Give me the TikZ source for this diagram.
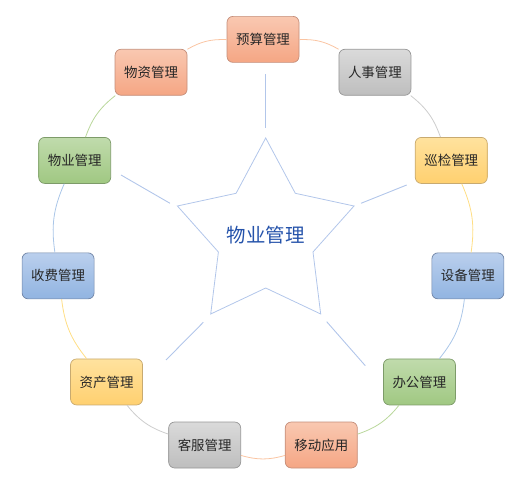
\documentclass[tikz,border=0pt]{standalone}
\usepackage{fontspec}
\setmainfont{Noto Sans CJK SC}
\definecolor{SalmonTop}{RGB}{249,200,177}
\definecolor{SalmonBot}{RGB}{245,166,132}
\definecolor{SalmonLine}{RGB}{196,142,122}
\definecolor{SalmonArc}{RGB}{250,196,162}
\definecolor{GrayTop}{RGB}{218,218,218}
\definecolor{GrayBot}{RGB}{190,190,190}
\definecolor{GrayLine}{RGB}{150,150,150}
\definecolor{GrayArc}{RGB}{205,205,205}
\definecolor{GoldTop}{RGB}{255,226,158}
\definecolor{GoldBot}{RGB}{255,208,112}
\definecolor{GoldLine}{RGB}{200,170,112}
\definecolor{GoldArc}{RGB}{255,222,132}
\definecolor{BlueTop}{RGB}{186,207,237}
\definecolor{BlueBot}{RGB}{145,180,225}
\definecolor{BlueLine}{RGB}{112,132,165}
\definecolor{BlueArc}{RGB}{170,198,232}
\definecolor{GreenTop}{RGB}{192,219,172}
\definecolor{GreenBot}{RGB}{160,200,130}
\definecolor{GreenLine}{RGB}{125,155,105}
\definecolor{GreenArc}{RGB}{185,215,155}
\definecolor{HubBlue}{RGB}{36,82,170}
\definecolor{SpokeBlue}{RGB}{178,198,234}

\begin{document}
\begin{tikzpicture}[x=1bp, y=1bp,
    box/.style={draw=#1Line, line width=0.7bp, top color=#1Top, bottom color=#1Bot,
      rounded corners=6bp, minimum width=72bp, minimum height=46bp, inner sep=2bp,
      text=black!85, font=\fontsize{13.5}{16}\selectfont},
    rim/.style={draw=#1Arc, line width=0.8bp},
    spoke/.style={draw=SpokeBlue, line width=0.9bp}]
  \useasboundingbox (-263,-242.6) rectangle (267,246.4);

  % centre star
  \node[text=HubBlue, font=\fontsize{19.5}{22}\selectfont] (hub) at (2.7,11.1) {物业管理};
  \draw[spoke, line width=0.8bp, line join=miter, shift={(hub)}]
    (0,97.3) -- (29.6,42) -- (88.3,29.3) -- (47.3,-16.7) -- (55,-78.7)
    -- (0,-52.7) -- (-55,-78.7) -- (-47.3,-16.7) -- (-88.3,29.3) -- (-29.6,42) -- cycle;

  % ring of modules, clockwise from the top
  \foreach \i/\txt/\tone in {0/预算管理/Salmon, 1/人事管理/Gray, 2/巡检管理/Gold,
      3/设备管理/Blue, 4/办公管理/Green, 5/移动应用/Salmon, 6/客服管理/Gray,
      7/资产管理/Gold, 8/收费管理/Blue, 9/物业管理/Green, 10/物资管理/Salmon} {
    \node[box=\tone] (n\i) at ({90-\i*360/11}:207) {\txt};
  }

  % arcs between neighbours
  \foreach \i/\tone in {0/Salmon, 1/Gray, 2/Gold, 3/Blue, 4/Green, 5/Salmon,
      6/Gray, 7/Gold, 8/Blue, 9/Green, 10/Salmon} {
    \pgfmathtruncatemacro\j{mod(\i+1,11)}
    \draw[rim=\tone] (n\i) to[bend left=16] (n\j);
  }

  % spokes
  \coordinate (s0a) at (2.7,118.7);    \coordinate (s0b) at (2.7,172.4);
  \coordinate (s1a) at (98,43.1);      \coordinate (s1b) at (143.7,61.4);
  \coordinate (s2a) at (63.7,-75.3);   \coordinate (s2b) at (102.3,-119.3);
  \coordinate (s3a) at (-59.7,-75.9);  \coordinate (s3b) at (-97,-113.6);
  \coordinate (s4a) at (-93,43.1);     \coordinate (s4b) at (-142,71.4);
  \foreach \k in {0,...,4} \draw[spoke] (s\k a) -- (s\k b);
\end{tikzpicture}
\end{document}
